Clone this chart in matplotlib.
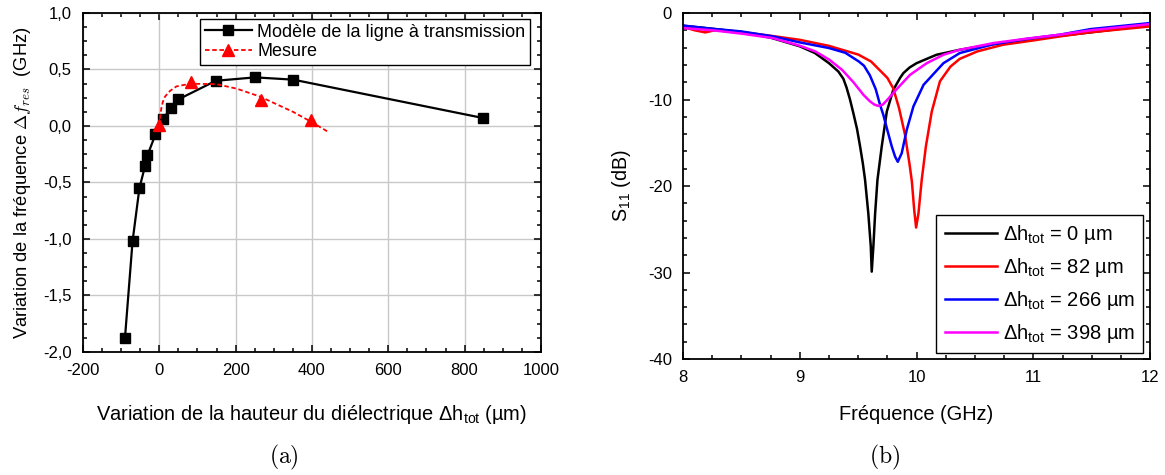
import matplotlib
matplotlib.use("Agg")
import matplotlib.pyplot as plt
from matplotlib.lines import Line2D
from matplotlib.ticker import MultipleLocator, FuncFormatter

plt.rcParams['font.family'] = ['Liberation Sans', 'DejaVu Sans']
plt.rcParams['axes.unicode_minus'] = False
plt.rcParams['mathtext.fontset'] = 'custom'
plt.rcParams['mathtext.rm'] = 'Liberation Sans'
plt.rcParams['mathtext.it'] = 'Liberation Sans:italic'

# --- (a) frequency shift vs dielectric height ---
model_h = [-90, -70, -52, -37, -31, -10, 10, 31, 50, 148, 251, 351, 849]
model_df = [-1.88, -1.02, -0.55, -0.35, -0.26, -0.075, 0.065, 0.16, 0.235, 0.40, 0.43, 0.41, 0.07]
mes_h = [0, 82, 266, 398]
mes_df = [0.01, 0.385, 0.23, 0.05]
fit_h = [0, 3, 6, 10, 15, 28, 45, 80, 150, 203, 264, 351, 399, 443]
fit_df = [0.0, 0.1, 0.17, 0.22, 0.26, 0.31, 0.35, 0.374, 0.37, 0.33, 0.26, 0.124, 0.035, -0.053]

# --- (b) S11 curves ---
f0 = [8.0, 8.25, 8.5, 8.75, 9.0, 9.13, 9.25, 9.33, 9.373, 9.40, 9.43, 9.459, 9.49, 9.516, 9.54,
      9.559, 9.587, 9.608, 9.616, 9.63, 9.645, 9.665, 9.702, 9.745, 9.80, 9.859, 9.887,
      9.94, 10.0, 10.17, 10.37, 10.66, 10.94, 11.23, 11.49, 12.0]
s0 = [-1.47, -1.82, -2.2, -2.85, -3.85, -4.63, -5.8, -6.76, -7.6, -8.6, -10.0, -11.6, -13.4, -15.4, -17.4,
      -19.3, -23.2, -27.0, -29.9, -27.0, -23.2, -19.3, -15.4, -11.4, -8.9, -7.5, -6.95,
      -6.3, -5.8, -4.83, -4.25, -3.6, -3.1, -2.63, -2.24, -1.4]
f82 = [8.0, 8.1, 8.19, 8.27, 8.5, 8.75, 9.0, 9.25, 9.5, 9.61, 9.706, 9.75, 9.80, 9.85, 9.90,
       9.94, 9.96, 9.98, 9.996, 10.016, 10.044, 10.08, 10.13, 10.20, 10.29, 10.37, 10.52,
       10.74, 11.0, 11.23, 11.48, 12.0]
s82 = [-1.6, -2.0, -2.24, -2.0, -2.2, -2.63, -3.1, -3.8, -4.8, -5.6, -6.9, -7.5, -8.7, -11.0, -14.0,
       -17.5, -19.5, -22.8, -24.8, -23.2, -19.3, -15.4, -11.4, -7.9, -6.2, -5.3, -4.44,
       -3.67, -3.17, -2.7, -2.24, -1.55]
f266 = [8.0, 8.25, 8.5, 8.77, 9.0, 9.25, 9.39, 9.505, 9.55, 9.60, 9.65, 9.687, 9.716, 9.745,
        9.787, 9.816, 9.839, 9.873, 9.90, 9.916, 9.973, 10.06, 10.23, 10.37, 10.66, 10.94,
        11.23, 11.49, 12.0]
s266 = [-1.45, -1.82, -2.13, -2.7, -3.4, -4.05, -4.6, -5.6, -6.1, -7.2, -8.8, -10.6, -11.8, -13.3,
        -15.4, -16.6, -17.2, -16.2, -14.5, -13.5, -10.8, -8.3, -5.8, -4.63, -3.6, -3.0,
        -2.5, -1.86, -1.16]
f398 = [8.0, 8.256, 8.51, 8.77, 9.005, 9.133, 9.253, 9.362, 9.459, 9.545, 9.60, 9.64, 9.673,
        9.71, 9.745, 9.83, 9.944, 10.087, 10.23, 10.37, 10.66, 10.94, 11.23, 11.49, 12.0]
s398 = [-1.74, -2.0, -2.4, -2.9, -3.8, -4.44, -5.4, -6.57, -8.0, -9.46, -10.2, -10.6, -10.74,
        -10.6, -10.1, -8.8, -7.15, -5.8, -4.83, -4.25, -3.47, -2.97, -2.5, -2.0, -1.28]
s_labels = ['0', '82', '266', '398']
s_colors = ['black', 'red', 'blue', 'magenta']

fig = plt.figure(figsize=(11.65, 4.75), dpi=100)
ax1 = fig.add_axes([0.0712, 0.259, 0.3931, 0.7137])
ax2 = fig.add_axes([0.5863, 0.2442, 0.4009, 0.7284])

# panel (a)
ax1.grid(True, color='#c8c8c8', lw=1.0)
ax1.set_axisbelow(True)
ax1.plot(model_h, model_df, color='black', lw=1.6, marker='s', ms=7, zorder=3)
ax1.plot(fit_h, fit_df, color='red', lw=1.3, ls=(0, (2.5, 1.5)), zorder=4)
ax1.plot(mes_h, mes_df, color='red', ls='none', marker='^', ms=8, zorder=5)
ax1.set_xlim(-200, 1000)
ax1.set_ylim(-2.0, 1.0)
ax1.xaxis.set_major_locator(MultipleLocator(200))
ax1.xaxis.set_minor_locator(MultipleLocator(50))
ax1.yaxis.set_major_locator(MultipleLocator(0.5))
ax1.yaxis.set_minor_locator(MultipleLocator(0.125))
ax1.yaxis.set_major_formatter(FuncFormatter(lambda v, p: f'{v:.1f}'.replace('.', ',')))
ax1.set_xlabel('Variation de la hauteur du diélectrique Δh$_{\\mathrm{tot}}$ (µm)', fontsize=14.4, labelpad=18)
ax1.set_ylabel(r'Variation de la fréquence $\mathit{\Delta f}_{res}$  (GHz)', fontsize=13.2,
               labelpad=7, math_fontfamily='cm')
handles = [Line2D([], [], color='black', lw=1.6, marker='s', ms=7),
           Line2D([], [], color='red', lw=1.3, ls=(0, (2.5, 1.5)), marker='^', ms=8)]
leg1 = ax1.legend(handles, ['Modèle de la ligne à transmission', 'Mesure'], loc='upper right',
                  fontsize=13, frameon=True, fancybox=False, framealpha=1, edgecolor='black',
                  handlelength=2.6, handletextpad=0.3, borderpad=0.25, labelspacing=0.15,
                  borderaxespad=0, bbox_to_anchor=(0.976, 0.982))
leg1.get_frame().set_linewidth(1.0)

# panel (b)
for f, s, lab, c in zip([f0, f82, f266, f398], [s0, s82, s266, s398], s_labels, s_colors):
    ax2.plot(f, s, color=c, lw=1.8, label='Δh$_{\\mathrm{tot}}$ = ' + lab + ' µm')
ax2.set_xlim(8, 12)
ax2.set_ylim(-40, 0)
ax2.xaxis.set_major_locator(MultipleLocator(1))
ax2.xaxis.set_minor_locator(MultipleLocator(0.25))
ax2.yaxis.set_major_locator(MultipleLocator(10))
ax2.yaxis.set_minor_locator(MultipleLocator(2))
ax2.set_xlabel('Fréquence (GHz)', fontsize=14.4, labelpad=14)
ax2.set_ylabel('S$_{11}$ (dB)', fontsize=14.2, labelpad=11)
leg2 = ax2.legend(loc='lower right', fontsize=14.5, frameon=True, fancybox=False, framealpha=1,
                  edgecolor='black', handlelength=2.6, handletextpad=0.3, borderpad=0.4,
                  labelspacing=0.5, borderaxespad=0, bbox_to_anchor=(0.985, 0.017))
leg2.get_frame().set_linewidth(1.0)

for ax in (ax1, ax2):
    for sp in ax.spines.values():
        sp.set_linewidth(1.3)
    ax.tick_params(which='both', direction='in', top=True, right=True, labelsize=12, width=1.1)
    ax.tick_params(which='major', length=5, pad=8)
    ax.tick_params(which='minor', length=3)

fig.text(284 / 1165, 1 - 457 / 475, r'$\mathrm{(a)}$', math_fontfamily='cm', fontsize=17,
         ha='center', va='center')
fig.text(885 / 1165, 1 - 457 / 475, r'$\mathrm{(b)}$', math_fontfamily='cm', fontsize=17,
         ha='center', va='center')

fig.savefig('out.png', dpi=100)
